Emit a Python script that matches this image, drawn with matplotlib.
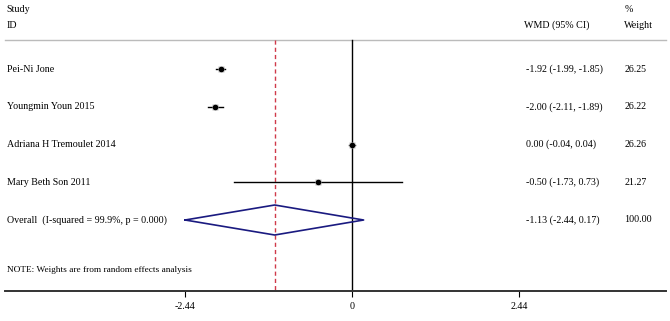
import numpy as np
import matplotlib.pyplot as plt

# Study data (weighted mean difference with 95% CI)
studies = ['Pei-Ni Jone', 'Youngmin Youn 2015', 'Adriana H Tremoulet 2014', 'Mary Beth Son 2011']
wmd = [-1.92, -2.00, 0.00, -0.50]
ci_low = [-1.99, -2.11, -0.04, -1.73]
ci_high = [-1.85, -1.89, 0.04, 0.73]
weights = [26.25, 26.22, 26.26, 21.27]

overall_label = 'Overall  (I-squared = 99.9%, p = 0.000)'
overall_wmd = -1.13
overall_low = -2.44
overall_high = 0.17
overall_weight = 100.00

tick_values = [-2.44, 0, 2.44]

plt.rcParams['font.family'] = ['Liberation Serif', 'DejaVu Serif']

fig = plt.figure(figsize=(6.7, 3.21), dpi=100)
ax = fig.add_axes([0, 30 / 321, 1, 291 / 321])

# x: pixel = 352 + 68.4 * value ; y in pixel rows (top = 0)
px_per_unit = 68.4
ax.set_xlim(-352 / px_per_unit, (670 - 352) / px_per_unit)
ax.set_ylim(291, 0)

row_y = 69 + 37.75 * np.arange(len(studies) + 1)
header_y = 40
fs = 7.2

# header
ax.text(-5.05, 9, 'Study', fontsize=fs, va='center')
ax.text(-5.05, 25, 'ID', fontsize=fs, va='center')
ax.text(2.52, 25, 'WMD (95% CI)', fontsize=fs, va='center')
ax.text(3.98, 9, '%', fontsize=fs, va='center')
ax.text(3.98, 25, 'Weight', fontsize=fs, va='center')
ax.plot([-5.08, 4.59], [header_y, header_y], color='#bbbbbb', lw=1)

# reference lines
ax.plot([0, 0], [header_y, 291], color='black', lw=1)
ax.plot([overall_wmd, overall_wmd], [header_y, 291], color='#d03a4a', lw=1, ls=(0, (3, 2.2)))

# studies
for i, name in enumerate(studies):
    y = row_y[i]
    ax.plot([ci_low[i], ci_high[i]], [y, y], color='black', lw=1)
    ax.plot(wmd[i], y, marker='s', ms=5 * np.sqrt(weights[i] / 26.26), color='#bdbdbd', mec='none')
    ax.plot(wmd[i], y, marker='o', ms=3, color='black')
    ax.text(-5.05, y, name, fontsize=fs, va='center')
    ax.text(2.55, y, '%.2f (%.2f, %.2f)' % (wmd[i], ci_low[i], ci_high[i]), fontsize=fs, va='center')
    ax.text(3.98, y, '%.2f' % weights[i], fontsize=fs, va='center')

# overall diamond
y = row_y[-1]
dx = [overall_low, overall_wmd, overall_high, overall_wmd, overall_low]
dy = [y, y - 15, y, y + 15, y]
ax.plot(dx, dy, color='#1a1a80', lw=1.2)
ax.text(-5.05, y, overall_label, fontsize=fs, va='center')
ax.text(2.55, y, '%.2f (%.2f, %.2f)' % (overall_wmd, overall_low, overall_high), fontsize=fs, va='center')
ax.text(3.98, y, '%.2f' % overall_weight, fontsize=fs, va='center')

ax.text(-5.05, 270, 'NOTE: Weights are from random effects analysis', fontsize=6.7, va='center')

# axis styling
for side in ['top', 'left', 'right']:
    ax.spines[side].set_visible(False)
ax.spines['bottom'].set_color('#333333')
ax.spines['bottom'].set_linewidth(1.4)
ax.spines['bottom'].set_bounds(-5.08, 4.59)
ax.set_yticks([])
ax.set_xticks(tick_values)
ax.set_xticklabels(['-2.44', '0', '2.44'], fontsize=fs)
ax.tick_params(axis='x', length=4, width=0.8, pad=4)

plt.savefig('out.png', dpi=100)
